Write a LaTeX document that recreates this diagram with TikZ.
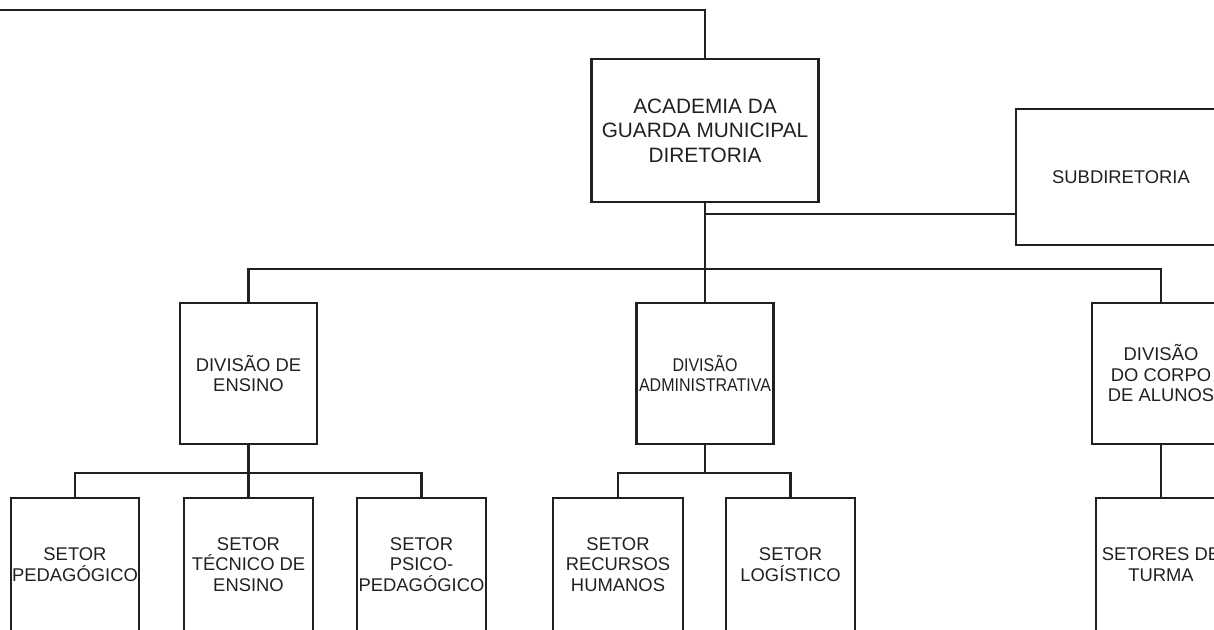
\documentclass[tikz,border=0pt]{standalone}
\usepackage{fontspec}
\setmainfont{Liberation Sans}
\newfontfamily\condfont[FakeStretch=0.87]{Liberation Sans}
\definecolor{ink}{HTML}{231F20}
\tikzset{
  box/.style={draw=ink, line width=2.8pt, align=center, inner sep=0pt, text=ink,
    font=\fontsize{18.4}{20.5}\selectfont},
  link/.style={draw=ink, line width=2.8pt},
}
\begin{document}
\begin{tikzpicture}[x=1pt,y=-1pt]
\useasboundingbox (0,0) rectangle (1214,629);
\clip (0,0) rectangle (1214,629);
% boxes
\node[box, minimum width=227pt, minimum height=143pt, font=\fontsize{20.8}{24.4}\selectfont] (acad) at (705,130.5) {ACADEMIA DA\\GUARDA MUNICIPAL\\DIRETORIA};
\node[box, minimum width=210pt, minimum height=136pt] (sub) at (1121,177) {SUBDIRETORIA};
\node[box, minimum width=137pt, minimum height=141pt] (divE) at (248.5,373.5) {DIVISÃO DE\\ENSINO};
\node[box, minimum width=137pt, minimum height=141pt, font=\condfont\fontsize{18.4}{20.5}\selectfont] (divA) at (705,373.5) {DIVISÃO\\ADMINISTRATIVA};
\node[box, minimum width=138pt, minimum height=141pt] (divC) at (1161,373.5) {DIVISÃO\\DO CORPO\\DE ALUNOS};
\node[box, minimum width=128pt, minimum height=133pt] (ped) at (75,564.5) {SETOR\\PEDAGÓGICO};
\node[box, minimum width=129pt, minimum height=133pt] (tec) at (248.5,564.5) {SETOR\\TÉCNICO DE\\ENSINO};
\node[box, minimum width=129pt, minimum height=133pt] (psi) at (421.5,564.5) {SETOR\\PSICO-\\PEDAGÓGICO};
\node[box, minimum width=130pt, minimum height=133pt] (rh) at (618,564.5) {SETOR\\RECURSOS\\HUMANOS};
\node[box, minimum width=129pt, minimum height=133pt] (log) at (790.5,564.5) {SETOR\\LOGÍSTICO};
\node[box, minimum width=130pt, minimum height=133pt] (turma) at (1161,564.5) {SETORES DE\\TURMA};
% junction coordinates
\coordinate (tl) at (-10,10);
\coordinate (jsub) at (705,214);
\coordinate (bus) at (705,269);
\coordinate (bE) at (248.5,473);
\coordinate (bA) at (705,473);
% connectors
\draw[link] (tl) -| (acad.north);
\draw[link] (acad.south) -- (divA.north);
\draw[link] (jsub) -- (jsub -| sub.west);
\draw[link] (divE.north) |- (bus) -| (divC.north);
\draw[link] (divE.south) -- (tec.north);
\draw[link] (ped.north) |- (bE) -| (psi.north);
\draw[link] (divA.south) -- (bA);
\draw[link] (rh.north) |- (bA) -| (log.north);
\draw[link] (divC.south) -- (turma.north);
\end{tikzpicture}
\end{document}
